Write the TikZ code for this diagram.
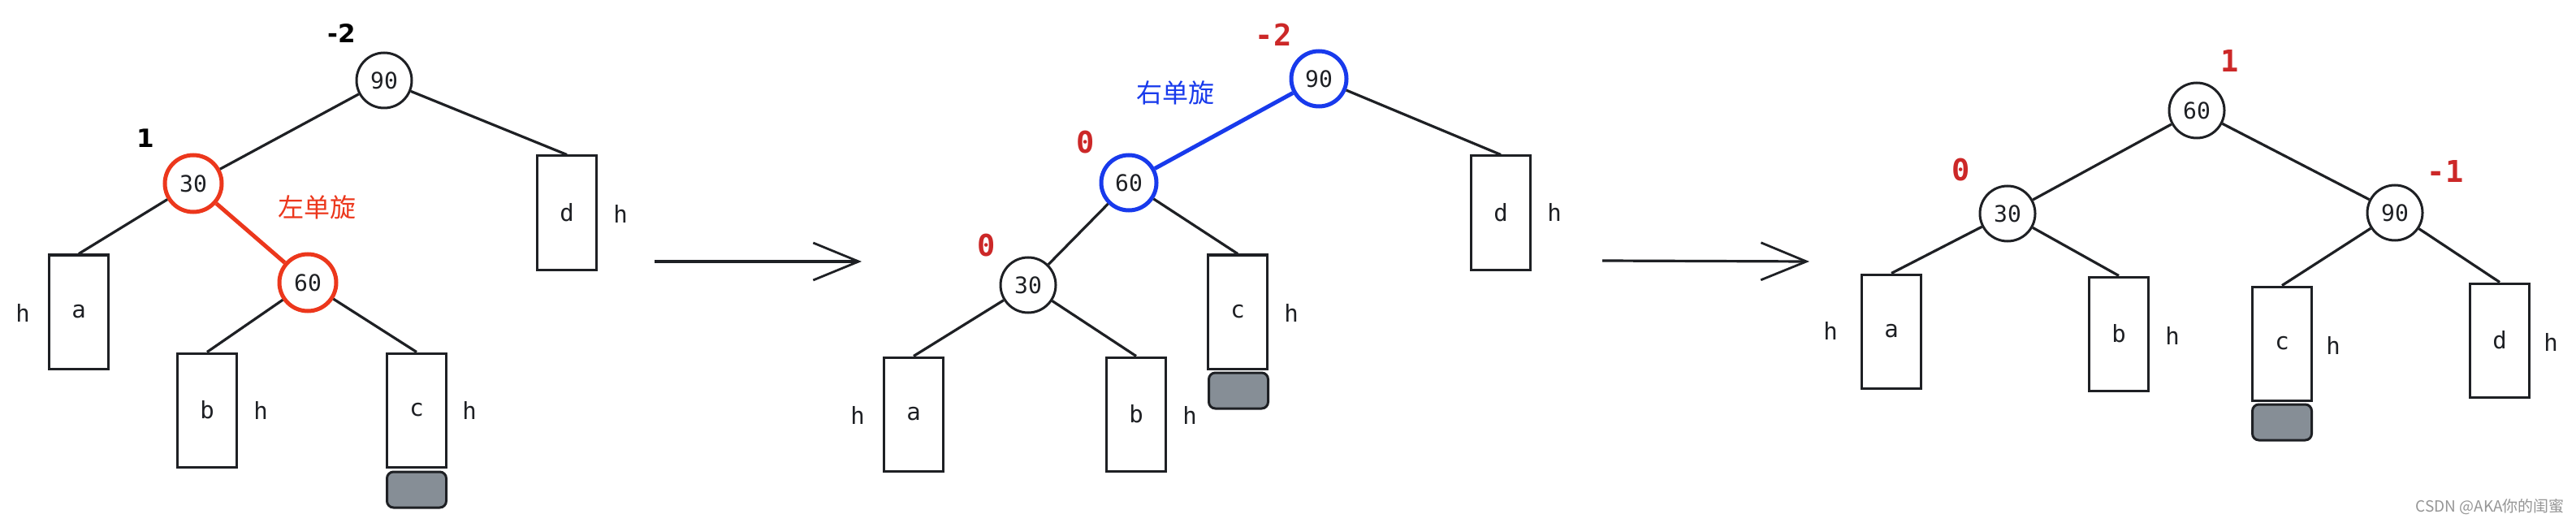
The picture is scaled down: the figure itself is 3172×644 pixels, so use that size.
\documentclass[tikz,border=0pt]{standalone}
\usepackage{fontspec}
\setmainfont{DejaVu Sans}
\newfontfamily\monof{DejaVu Sans Mono}
\newfontfamily\cjkf{Noto Sans CJK SC}
\usetikzlibrary{arrows.meta}
\definecolor{ink}{RGB}{30,32,36}
\definecolor{rd}{RGB}{236,55,28}
\definecolor{dr}{RGB}{204,40,40}
\definecolor{bl}{RGB}{24,58,236}
\definecolor{gfill}{RGB}{134,142,150}
\definecolor{wm}{RGB}{150,150,150}
\tikzset{
 nd/.style={circle, draw=ink, line width=3pt, minimum size=68pt, inner sep=0pt, font=\monof\fontsize{28}{28}\selectfont, text=ink},
 ndred/.style={nd, draw=rd, line width=5pt, minimum size=70pt},
 ndblue/.style={nd, draw=bl, line width=5pt, minimum size=68pt},
 bx/.style={rectangle, draw=ink, line width=3pt, minimum width=73pt, minimum height=140pt, inner sep=0pt, font=\monof\fontsize{29}{29}\selectfont, text=ink},
 gbox/.style={rectangle, rounded corners=8pt, draw=ink, line width=3pt, fill=gfill, minimum width=73pt, minimum height=44pt},
 hl/.style={font=\monof\fontsize{29}{29}\selectfont, text=ink, inner sep=0pt},
 lnk/.style={draw=ink, line width=3.2pt},
 redlbl/.style={font=\monof\bfseries\fontsize{37}{37}\selectfont, text=dr, inner sep=0pt},
 blklbl/.style={font=\bfseries\fontsize{31}{31}\selectfont, text=black, inner sep=0pt},
 cnlbl/.style={font=\cjkf\fontsize{32}{32}\selectfont, inner sep=0pt},
 bigarrow/.style={draw=ink, line width=3.2pt, -{Straight Barb[length=56pt,width=46pt,line width=2.8pt]}},
}
\begin{document}
\begin{tikzpicture}[x=1pt,y=-1pt]
\useasboundingbox[fill=white] (0,0) rectangle (3172,644);

% ---------- tree 1 ----------
\node[nd] (t1n90) at (473,99) {90};
\node[ndred] (t1n30) at (238,226) {30};
\node[ndred] (t1n60) at (379,348) {60};
\node[bx] (t1a) at (97,384) {a};
\node[bx] (t1b) at (255,505) {b};
\node[bx] (t1c) at (513,505) {c};
\node[bx] (t1d) at (698,262) {d};
\node[gbox] (t1g) at (513,603) {};
\node[hl] (t1ha) at (28,385) {h};
\node[hl] (t1hb) at (321,505) {h};
\node[hl] (t1hc) at (578,505) {h};
\node[hl] (t1hd) at (764,263) {h};
\node[blklbl] (t1l90) at (421,41) {-2};
\node[blklbl] (t1l30) at (179,170) {1};
\node[cnlbl, text=rd] (t1rot) at (390,255) {左单旋};
\draw[lnk] (t1n90) -- (t1n30);
\draw[lnk] (t1n90) -- (t1d.north);
\draw[lnk] (t1n30) -- (t1a.north);
\draw[lnk, draw=rd, line width=5pt] (t1n30) -- (t1n60);
\draw[lnk] (t1n60) -- (t1b.north);
\draw[lnk] (t1n60) -- (t1c.north);

% ---------- arrow 1 ----------
\coordinate (a1s) at (806,322);
\coordinate (a1e) at (1061,322);
\draw[bigarrow] (a1s) -- (a1e);

% ---------- tree 2 ----------
\node[ndblue] (t2n90) at (1624,97) {90};
\node[ndblue] (t2n60) at (1390,225) {60};
\node[nd] (t2n30) at (1266,351) {30};
\node[bx] (t2a) at (1125,510) {a};
\node[bx] (t2b) at (1399,510) {b};
\node[bx] (t2c) at (1524,384) {c};
\node[bx] (t2d) at (1848,262) {d};
\node[gbox] (t2g) at (1525,481) {};
\node[hl] (t2ha) at (1056,511) {h};
\node[hl] (t2hb) at (1465,511) {h};
\node[hl] (t2hc) at (1590,385) {h};
\node[hl] (t2hd) at (1914,261) {h};
\node[redlbl] (t2l90) at (1568,43) {-2};
\node[redlbl] (t2l60) at (1337,175) {0};
\node[redlbl] (t2l30) at (1215,302) {0};
\node[cnlbl, text=bl] (t2rot) at (1447,114) {右单旋};
\draw[lnk, draw=bl, line width=5pt] (t2n90) -- (t2n60);
\draw[lnk] (t2n90) -- (t2d.north);
\draw[lnk] (t2n60) -- (t2n30);
\draw[lnk] (t2n60) -- (t2c.north);
\draw[lnk] (t2n30) -- (t2a.north);
\draw[lnk] (t2n30) -- (t2b.north);

% ---------- arrow 2 ----------
\coordinate (a2s) at (1973,321);
\coordinate (a2e) at (2228,322);
\draw[bigarrow] (a2s) -- (a2e);

% ---------- tree 3 ----------
\node[nd] (t3n60) at (2705,136) {60};
\node[nd] (t3n30) at (2472,263) {30};
\node[nd] (t3n90) at (2949,262) {90};
\node[bx] (t3a) at (2329,408) {a};
\node[bx] (t3b) at (2609,411) {b};
\node[bx] (t3c) at (2810,423) {c};
\node[bx] (t3d) at (3078,419) {d};
\node[gbox] (t3g) at (2810,520) {};
\node[hl] (t3ha) at (2254,407) {h};
\node[hl] (t3hb) at (2675,413) {h};
\node[hl] (t3hc) at (2873,425) {h};
\node[hl] (t3hd) at (3141,421) {h};
\node[redlbl] (t3l60) at (2746,75) {1};
\node[redlbl] (t3l30) at (2415,209) {0};
\node[redlbl] (t3l90) at (3011,211) {-1};
\draw[lnk] (t3n60) -- (t3n30);
\draw[lnk] (t3n60) -- (t3n90);
\draw[lnk] (t3n30) -- (t3a.north);
\draw[lnk] (t3n30) -- (t3b.north);
\draw[lnk] (t3n90) -- (t3c.north);
\draw[lnk] (t3n90) -- (t3d.north);

% ---------- watermark ----------
\node[font=\cjkf\fontsize{19}{19}\selectfont, text=wm, anchor=east, inner sep=0pt] (wmk) at (3158,624) {CSDN @AKA你的闺蜜};
\end{tikzpicture}
\end{document}
